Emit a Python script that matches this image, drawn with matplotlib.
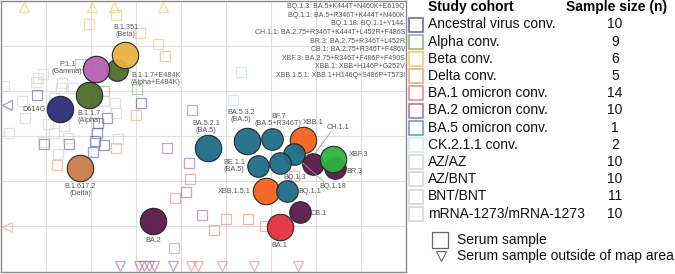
import matplotlib
matplotlib.use("Agg")
import matplotlib.pyplot as plt
import numpy as np

plt.rcParams['font.family'] = ['Liberation Sans', 'DejaVu Sans']

# ---------------- data (antigenic map units) ----------------
antigen_names = ["D614G", "B.1.1.7", "B.1.1.7+E484K", "P.1.1", "B.1.351", "B.1.617.2",
                 "BA.2", "BA.1", "BA.5.2.1", "BA.5.3.2", "BF.7", "XBB.1", "BQ.1.18",
                 "BE.1.1", "BQ.1.3", "CH.1.1", "BR.3", "XBF.3", "XBB.1.5.1", "BQ.1.1", "CB.1"]
antigen_x = [1.31, 1.96, 2.58, 2.11, 2.76, 1.76, 3.38, 6.20, 4.60, 5.47, 6.02, 6.71, 6.51,
             5.71, 6.20, 6.93, 7.42, 7.38, 5.89, 6.36, 6.64]
antigen_y = [2.40, 2.09, 1.53, 1.51, 1.20, 3.71, 4.89, 5.02, 3.27, 3.11, 3.07, 3.09, 3.40,
             3.67, 3.60, 3.62, 3.71, 3.51, 4.22, 4.22, 4.69]
antigen_group = ["anc", "alpha", "alpha", "gamma", "beta", "delta", "ba2", "ba1", "ba5", "ba5",
                 "ba5", "xbb", "ba5", "ba5", "ba5", "ba275", "ba275", "xbf", "xbb", "ba5", "ba275"]
antigen_big = [1, 1, 0, 1, 1, 1, 1, 1, 1, 1, 0, 1, 0, 0, 0, 0, 0, 1, 1, 0, 0]

cohorts = ["Ancestral virus conv.", "Alpha conv.", "Beta conv.", "Delta conv.",
           "BA.1 omicron conv.", "BA.2 omicron conv.", "BA.5 omicron conv.", "CK.2.1.1 conv.",
           "AZ/AZ", "AZ/BNT", "BNT/BNT", "mRNA-1273/mRNA-1273"]
sample_sizes = [10, 9, 6, 5, 14, 10, 1, 2, 10, 10, 11, 10]

sera_cohort = (["Beta conv."] * 4 + ["Delta conv."] * 4 + ["Alpha conv."] * 3 +
               ["Ancestral virus conv."] * 10 + ["AZ/AZ"] * 7 + ["AZ/BNT"] * 7 + ["BNT/BNT"] * 7 +
               ["BA.1 omicron conv."] * 8 + ["BA.2 omicron conv."] * 4 +
               ["BA.5 omicron conv."] + ["CK.2.1.1 conv."] * 2)
sera_x = [2.56, 1.96, 3.49, 3.09,
          3.64, 3.00, 2.56, 1.24,
          1.76, 3.02, 2.29,
          0.80, 2.36, 2.16, 2.04, 0.96, 1.51, 2.09, 2.29, 2.13, 3.11,
          0.93, 0.82, 0.78, 1.36, 1.33, 1.60, 0.07,
          0.47, 1.18, 2.29, 2.53, 2.56, 0.53, 1.04,
          1.40, 1.18, 0.18, 0.93, 1.49, 2.60, 1.27,
          4.20, 3.87, 3.84, 5.00, 4.73, 5.49, 5.87, 6.51,
          3.69, 4.18, 4.11, 4.47,
          4.24,
          5.33, 5.16]
sera_y = [0.31, 0.51, 0.96, 0.71,
          1.22, 2.53, 3.27, 3.64,
          1.40, 1.96, 2.00,
          2.09, 2.60, 2.71, 3.36, 3.18, 3.18, 3.11, 3.20, 2.93, 2.27,
          1.62, 1.71, 1.80, 1.82, 1.93, 1.93, 1.89,
          2.22, 2.16, 2.22, 2.27, 2.49, 2.60, 2.73,
          2.78, 2.93, 2.93, 3.13, 3.04, 3.07, 3.40,
          3.96, 4.38, 5.49, 4.84, 5.09, 4.84, 5.00, 3.89,
          3.27, 3.60, 4.24, 4.76,
          2.42,
          1.58, 2.20]

out_cohort = (["Beta conv."] * 4 + ["Ancestral virus conv.", "Delta conv."] +
              ["BA.2 omicron conv."] * 6 + ["BA.1 omicron conv."] * 5)
out_x = [0.51, 2.02, 2.51, 3.60, 0.13, 0.13, 2.64, 3.07, 3.18, 3.29, 3.40, 3.82,
         4.22, 4.38, 4.91, 5.62, 6.60]
out_y = [0.13, 0.13, 0.13, 0.13, 2.31, 5.02] + [5.89] * 11
out_side = ["top"] * 4 + ["left"] * 2 + ["bottom"] * 11

annotation_lines = ["BQ.1.3: BA.5+K444T+N460K+E619Q",
                    "BQ.1.1: BA.5+R346T+K444T+N460K",
                    "BQ.1.18: BQ.1.1+Y144-",
                    "CH.1.1: BA.2.75+R346T+K444T+L452R+F486S",
                    "BR.3: BA.2.75+R346T+L452R",
                    "CB.1: BA.2.75+R346T+F486V",
                    "XBF.3: BA.2.75+R346T+F486P+F490S",
                    "XBB.1: XBB+H146P+G252V",
                    "XBB.1.5.1: XBB.1+H146Q+S486P+T573I"]

# ---------------- styles ----------------
group_colors = {"anc": "#2c2c78", "alpha": "#4f6b2a", "gamma": "#b460b0", "beta": "#e9b23f",
                "delta": "#c97b4b", "ba2": "#5a1848", "ba1": "#e3303f", "ba5": "#1f6d88",
                "xbb": "#f5621e", "ba275": "#5a1848", "xbf": "#2fb141"}
cohort_colors = {"Ancestral virus conv.": "#5a5aa8", "Alpha conv.": "#8fae6a",
                 "Beta conv.": "#f2c45a", "Delta conv.": "#e9a175",
                 "BA.1 omicron conv.": "#f27a7a", "BA.2 omicron conv.": "#a261a8",
                 "BA.5 omicron conv.": "#4f9cbb", "CK.2.1.1 conv.": "#d5e5ef",
                 "AZ/AZ": "#cfcfcf", "AZ/BNT": "#cfcfcf", "BNT/BNT": "#cfcfcf",
                 "mRNA-1273/mRNA-1273": "#cfcfcf"}
sera_alpha = {"CK.2.1.1 conv.": 0.9}

W, H = 675, 274
fig = plt.figure(figsize=(W / 100, H / 100), dpi=100)

# map axes: pixels x 1..406, y 1..272
ax = fig.add_axes([1 / W, 2 / H, 405 / W, 271 / H])
ax.set_xlim(0, 9)
ax.set_ylim(6.02, 0)
ax.set_xticks(np.arange(1, 9))
ax.set_yticks(np.arange(1, 6))
ax.grid(True, color="#dedede", lw=0.8)
ax.tick_params(length=0, labelbottom=False, labelleft=False)
for s in ax.spines.values():
    s.set_color("#8a8a8a")
    s.set_linewidth(1.0)
ax.set_axisbelow(True)

# sera squares
for c, x, y in zip(sera_cohort, sera_x, sera_y):
    ax.plot(x, y, marker="s", ms=6.6, mfc="none", mec=cohort_colors[c],
            mew=0.9, alpha=sera_alpha.get(c, 0.6), ls="none", zorder=2)

side_marker = {"top": "^", "left": "<", "bottom": "v"}
for c, x, y, sd in zip(out_cohort, out_x, out_y, out_side):
    ax.plot(x, y, marker=side_marker[sd], ms=7.5, mfc="none", mec=cohort_colors[c],
            mew=0.9, alpha=0.6, ls="none", zorder=2, clip_on=False)

# antigen circles
for n, x, y, g, b in zip(antigen_names, antigen_x, antigen_y, antigen_group, antigen_big):
    s = 19.0 if b else 15.5
    ax.plot(x, y, marker="o", ms=s, mfc=group_colors[g], mec="#222222", mew=0.8,
            alpha=0.95, ls="none", zorder=3)

# circle labels (x, y in map units, ha)
lab_col = "#555555"
lfs = 5.2
labels = {
    "B.1.351": ("B.1.351\n(Beta)", 2.77, 0.67, "center"),
    "P.1.1": ("P.1.1\n(Gamma)", 1.47, 1.49, "center"),
    "B.1.1.7+E484K": ("B.1.1.7+E484K\n(Alpha+E484K)", 3.44, 1.73, "center"),
    "B.1.1.7": ("B.1.1.7\n(Alpha)", 1.96, 2.58, "center"),
    "D614G": ("D614G", 1.00, 2.40, "right"),
    "B.1.617.2": ("B.1.617.2\n(Delta)", 1.76, 4.20, "center"),
    "BA.2": ("BA.2", 3.38, 5.31, "center"),
    "BA.5.2.1": ("BA.5.2.1\n(BA.5)", 4.56, 2.80, "center"),
    "BA.5.3.2": ("BA.5.3.2\n(BA.5)", 5.33, 2.56, "center"),
    "BF.7": ("BF.7\n(BA.5+R346T)", 6.16, 2.64, "center"),
    "XBB.1": ("XBB.1", 6.93, 2.71, "center"),
    "BE.1.1": ("BE.1.1\n(BA.5)", 5.18, 3.67, "center"),
    "BQ.1.3": ("BQ.1.3", 6.53, 3.91, "center"),
    "XBF.3": ("XBF.3", 7.73, 3.40, "left"),
    "BR.3": ("BR.3", 7.67, 3.78, "left"),
    "XBB.1.5.1": ("XBB.1.5.1", 5.56, 4.24, "right"),
    "BQ.1.1": ("BQ.1.1", 6.60, 4.24, "left"),
    "CB.1": ("CB.1", 6.89, 4.73, "left"),
    "BA.1": ("BA.1", 6.18, 5.44, "center"),
}
for key, (t, x, y, ha) in labels.items():
    ax.text(x, y, t, ha=ha, va="center", fontsize=lfs, color=lab_col, linespacing=1.0, zorder=5)

# leader lines
ax.plot([7.33, 6.98], [2.91, 3.38], color="#999999", lw=0.6, zorder=4)
ax.text(7.49, 2.80, "CH.1.1", ha="center", va="center", fontsize=lfs, color=lab_col, zorder=5)
ax.plot([7.16, 6.71], [4.00, 3.60], color="#999999", lw=0.6, zorder=4)
ax.text(7.38, 4.11, "BQ.1.18", ha="center", va="center", fontsize=lfs, color=lab_col, zorder=5)

# annotation text block at top right
for i, line in enumerate(annotation_lines):
    ax.text(8.98, 0.13 + i * 0.19, line, ha="right", va="center", fontsize=5.0,
            color="#555555", zorder=5)

# ---------------- legend (pixel coordinates) ----------------
lg = fig.add_axes([0, 0, 1, 1])
lg.set_xlim(0, W)
lg.set_ylim(H, 0)
lg.axis("off")
lg.patch.set_alpha(0)

lg.text(428, 7, "Study cohort", fontsize=10, fontweight="bold", ha="left", va="center")
lg.text(617, 7, "Sample size (n)", fontsize=10, fontweight="bold", ha="center", va="center")
for i, (c, n) in enumerate(zip(cohorts, sample_sizes)):
    y = 24.5 + i * 17.2
    lg.plot(416, y, marker="s", ms=9.6, mfc="white", mec=cohort_colors[c], mew=1.1,
            ls="none", alpha=0.95)
    lg.text(428, y, c, fontsize=10, ha="left", va="center", color="#111111")
    lg.text(615, y, str(n), fontsize=10, ha="center", va="center", color="#111111")

lg.plot(440, 240, marker="s", ms=11.5, mfc="white", mec="#666666", mew=0.9, ls="none")
lg.text(457, 240, "Serum sample", fontsize=10, ha="left", va="center", color="#111111")
lg.plot(441, 256, marker="v", ms=7.5, mfc="white", mec="#666666", mew=0.8, ls="none")
lg.text(457, 256, "Serum sample outside of map area", fontsize=10, ha="left", va="center",
        color="#111111")

fig.savefig("out.png", dpi=100)
